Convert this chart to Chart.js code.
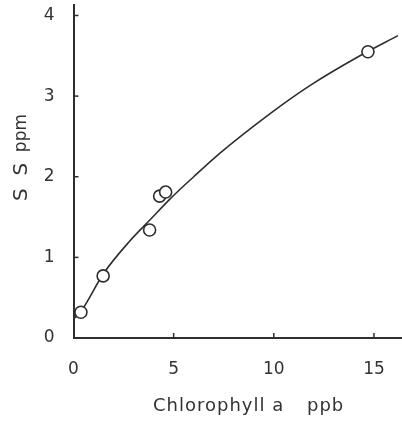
<!DOCTYPE html>
<html>
<head>
<meta charset="utf-8">
<script src="https://cdn.jsdelivr.net/npm/chart.js@4/dist/chart.umd.min.js"></script>
<style>
html,body{margin:0;padding:0;background:#fff;}
#wrap{width:402px;height:423px;}
</style>
</head>
<body>
<div id="wrap"><canvas id="c" width="402" height="423"></canvas></div>
<script>
// Observed samples
const sampleChl = [0.37, 1.48, 3.8, 4.3, 4.6, 14.7];
const sampleSS  = [0.32, 0.77, 1.34, 1.76, 1.81, 3.55];
// Fitted curve
const curveChl = [0.07, 0.4, 1.5, 2.8, 3.8, 4.8, 6.0, 7.3, 9.8, 11.8, 14.3, 16.2];
const curveSS  = [0.25, 0.34, 0.80, 1.20, 1.46, 1.72, 2.00, 2.29, 2.78, 3.13, 3.50, 3.75];
const xTicks = [0, 5, 10, 15];
const yTicks = [0, 1, 2, 3, 4];
const xTitleParts = ['Chlorophyll a', 'ppb'];
const yTitleParts = ['S  S', 'ppm'];

const ink = '#2e2e2e';
const font = {family: 'DejaVu Sans', size: 17};

const inwardTicks = {
  id: 'inwardTicks',
  afterDraw(chart) {
    const ctx = chart.ctx;
    const xs = chart.scales.x, ys = chart.scales.y;
    const area = chart.chartArea;
    ctx.save();
    ctx.strokeStyle = ink;
    ctx.lineWidth = 1.5;
    xTicks.forEach(v => {
      if (v === 0) return;
      const px = xs.getPixelForValue(v);
      ctx.beginPath(); ctx.moveTo(px, area.bottom); ctx.lineTo(px, area.bottom - 5); ctx.stroke();
    });
    yTicks.forEach(v => {
      if (v === 0) return;
      const py = ys.getPixelForValue(v);
      ctx.beginPath(); ctx.moveTo(area.left, py); ctx.lineTo(area.left + 5, py); ctx.stroke();
    });
    ctx.fillStyle = '#333';
    ctx.textBaseline = 'alphabetic';
    // x title
    ctx.font = '18px "DejaVu Sans"';
    ctx.letterSpacing = '1px';
    ctx.textAlign = 'left';
    ctx.fillText(xTitleParts[0], 153, 411);
    ctx.fillText(xTitleParts[1], 307, 411);
    ctx.letterSpacing = '0px';
    // y title (rotated)
    ctx.font = '20px "DejaVu Sans"';
    ctx.save();
    ctx.translate(27, 201);
    ctx.rotate(-Math.PI / 2);
    ctx.textAlign = 'left';
    ctx.fillText(yTitleParts[0], 0, 0);
    ctx.restore();
    ctx.font = '17px "DejaVu Sans"';
    ctx.save();
    ctx.translate(26, 114);
    ctx.rotate(-Math.PI / 2);
    ctx.textAlign = 'right';
    ctx.fillText(yTitleParts[1], 0, 0);
    ctx.restore();
    ctx.restore();
  }
};

function noPad(s) { s.paddingTop = 0; s.paddingBottom = 0; s.paddingLeft = 0; s.paddingRight = 0; }

new Chart(document.getElementById('c'), {
  type: 'scatter',
  data: {
    datasets: [
      {
        type: 'line',
        data: curveChl.map((x, i) => ({x, y: curveSS[i]})),
        borderColor: ink,
        borderWidth: 1.6,
        pointRadius: 0,
        fill: false,
        cubicInterpolationMode: 'monotone',
        order: 2
      },
      {
        data: sampleChl.map((x, i) => ({x, y: sampleSS[i]})),
        backgroundColor: '#fff',
        borderColor: ink,
        borderWidth: 1.6,
        pointRadius: 6,
        order: 1
      }
    ]
  },
  options: {
    responsive: false,
    animation: false,
    layout: {autoPadding: false, padding: {top: 5, right: 0, left: 0, bottom: 0}},
    plugins: {legend: {display: false}, tooltip: {enabled: false}},
    scales: {
      x: {
        type: 'linear',
        min: 0, max: 16.4,
        afterBuildTicks: s => { s.ticks = xTicks.map(v => ({value: v})); },
        afterFit: s => { s.height = 85; noPad(s); },
        grid: {display: false, drawTicks: false},
        border: {display: true, color: ink, width: 2},
        ticks: {color: '#333', font, padding: 21, maxRotation: 0}
      },
      y: {
        type: 'linear',
        min: 0, max: 4.13,
        afterBuildTicks: s => { s.ticks = yTicks.map(v => ({value: v})); },
        afterFit: s => { s.width = 73.5; noPad(s); },
        grid: {display: false, drawTicks: false},
        border: {display: true, color: ink, width: 2},
        ticks: {color: '#333', font, padding: 19}
      }
    }
  },
  plugins: [inwardTicks]
});
</script>
</body>
</html>
